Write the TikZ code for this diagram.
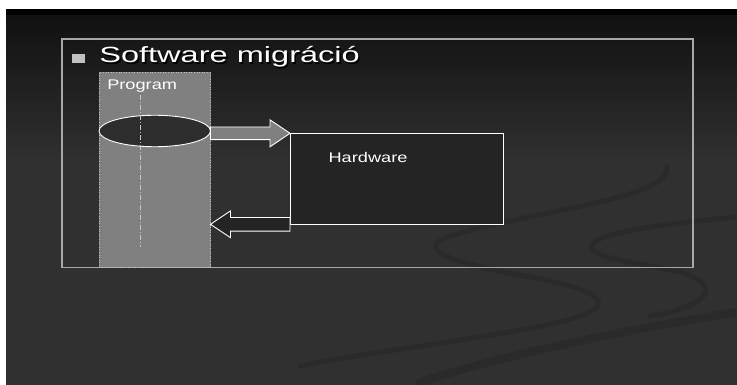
\documentclass[tikz,border=0pt]{standalone}
\usepackage{fontspec}
\setmainfont{Liberation Sans}
\usepackage{tikz}
\usetikzlibrary{calc,positioning,shapes.geometric}

\definecolor{slidebg}{HTML}{303030}
\definecolor{slidetop}{HTML}{111111}
\definecolor{swirl}{HTML}{2A2A2A}
\definecolor{framegray}{HTML}{A8A8A8}
\definecolor{colgray}{HTML}{808080}
\definecolor{boxdark}{HTML}{242424}
\definecolor{diskdark}{HTML}{2D2D2D}
\definecolor{bulletgray}{HTML}{C0C0C0}

\begin{document}
\begin{tikzpicture}[x=1pt, y=-1pt,
  headline/.style={font=\fontsize{22}{26}\selectfont, inner sep=0pt, anchor=base west, xscale=1.48, transform shape},
  lbl/.style={font=\fontsize{14}{17}\selectfont, text=white, inner sep=0pt, anchor=base west, xscale=1.3, transform shape},
  column/.style={rectangle, draw=bulletgray, dotted, line width=0.6pt, fill=colgray, inner sep=0pt, outer sep=0pt, minimum width=111.5pt, minimum height=195pt, anchor=north west},
  disk/.style={ellipse, draw=white, line width=0.9pt, fill=diskdark, inner sep=0pt, outer sep=0pt, minimum width=111.5pt, minimum height=31.5pt},
  hwbox/.style={rectangle, draw=white, line width=0.9pt, fill=boxdark, inner sep=0pt, outer sep=0pt, minimum width=213.3pt, minimum height=91pt, anchor=north west},
  blockarr/.style={draw=white, line width=0.9pt, line join=miter},
  axisline/.style={draw=bulletgray!90, line width=0.9pt, dash pattern=on 5pt off 2pt on 1pt off 2pt},
  swirlline/.style={draw=swirl, line cap=round}
]
\useasboundingbox (0,0) rectangle (737,385);

% slide background
\fill[white] (0,0) rectangle (737,385);
\fill[black] (6,9) rectangle (737,16.5);
\shade[top color=slidetop, bottom color=slidebg] (6,16) rectangle (737,160.5);
\fill[slidebg] (6,160) rectangle (737,385);
\draw[swirlline, line width=5pt] (667,167) .. controls (672,200) and (520,212) .. (445,238)
  .. controls (418,250) and (450,262) .. (520,275) .. controls (605,290) and (625,306) .. (560,322)
  .. controls (480,340) and (380,350) .. (300,366);
\draw[swirlline, line width=5pt] (737,217) .. controls (680,222) and (600,232) .. (592,244)
  .. controls (585,258) and (640,263) .. (680,272) .. controls (722,284) and (712,306) .. (650,316);
\draw[swirlline, line width=8pt] (737,312) .. controls (650,326) and (520,350) .. (420,382);

% frame and title
\draw[framegray, line width=1.5pt] (62,39) rectangle (693,267.5);
\node[rectangle, fill=bulletgray, inner sep=0pt, minimum width=13pt, minimum height=9pt] (bullet) at (78.5,58.5) {};
\node[headline, text=black] (titleshadow) at (100.5,64.5) {Software migráció};
\node[headline, text=white] (title) at (99,63) {Software migráció};

% program column
\node[column] (prog) at (99,72) {};
\node[lbl] (progtext) at (107,90) {Program};
\node[disk] (disk) at (154.75,131) {};
\coordinate (axtop) at (140.7,95);
\coordinate (axbot) at (140.7,247);
\draw[axisline] (axtop) -- (axbot);

% hardware
\node[hwbox] (hw) at (290,133.3) {};
\node[lbl] (hwtext) at (328.3,162.3) {Hardware};

% arrows between program and hardware
\filldraw[blockarr, fill=colgray] let \p1=(disk.east |- hw.north west), \p2=(hw.north west) in
  (\x1,\y1-6.3pt) -- (\x2-20pt,\y1-6.3pt) -- (\x2-20pt,\y2-13.5pt) -- (\p2)
  -- (\x2-20pt,\y2+13.5pt) -- (\x2-20pt,\y1+6.3pt) -- (\x1,\y1+6.3pt) -- cycle;
\filldraw[blockarr, fill=boxdark] let \p1=(hw.south west), \p2=(prog.east |- hw.south west) in
  (\x1,\y1-6.8pt) -- (\x2+20pt,\y1-6.8pt) -- (\x2+20pt,\y2-13.4pt) -- (\p2)
  -- (\x2+20pt,\y2+13.4pt) -- (\x2+20pt,\y1+6.8pt) -- (\x1,\y1+6.8pt) -- cycle;
\end{tikzpicture}
\end{document}
